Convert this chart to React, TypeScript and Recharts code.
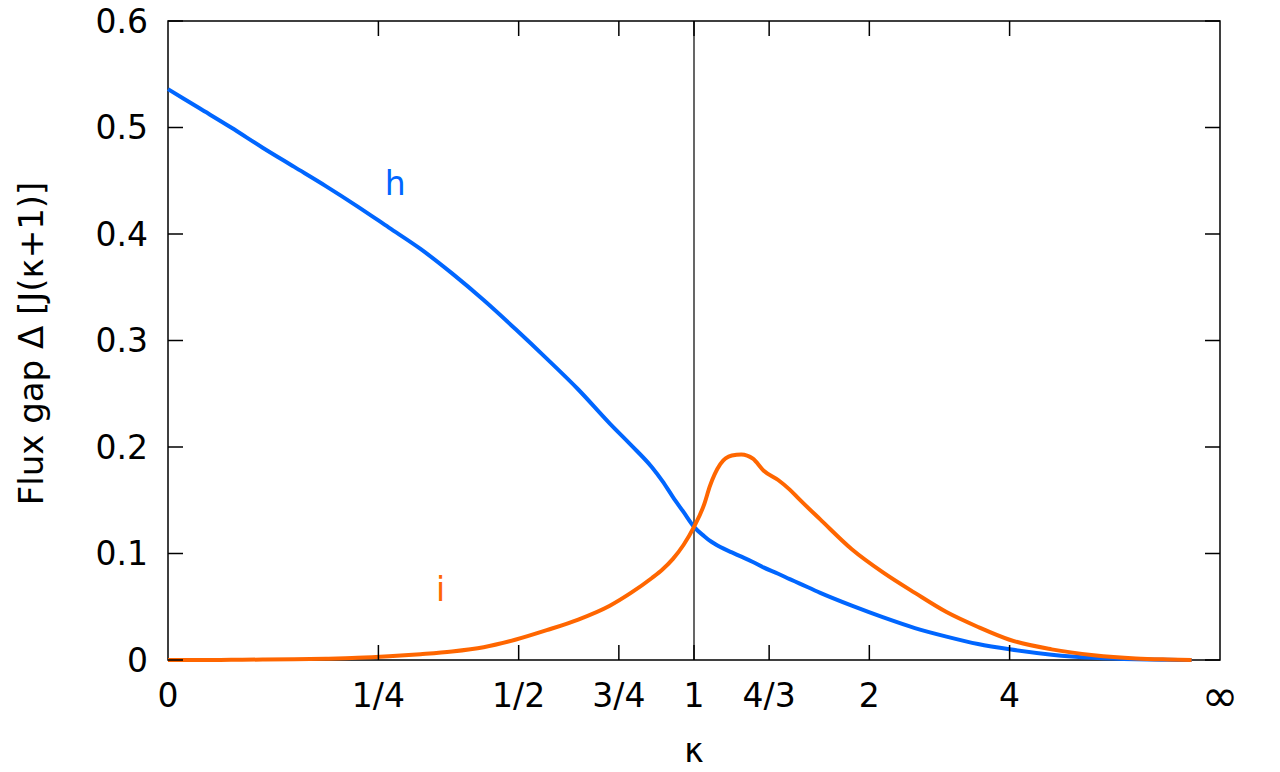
import React from 'react';
import { LineChart, Line, XAxis, YAxis, ReferenceLine, ReferenceArea, ReferenceDot } from 'recharts';

// x coordinate is t = κ/(1+κ), so κ = ∞ sits at t = 1
const T = [
  0, 0.03, 0.06, 0.09, 0.12, 0.15, 0.18, 0.21, 0.24, 0.27, 0.3, 0.33, 0.36, 0.39, 0.42, 0.44,
  0.46, 0.47, 0.48, 0.49, 0.5, 0.51, 0.515, 0.525, 0.536, 0.545, 0.556, 0.566, 0.58, 0.591,
  0.6, 0.62, 0.65, 0.68, 0.71, 0.74, 0.77, 0.8, 0.84, 0.88, 0.92, 0.95, 0.973,
];
const GAP_H = [
  0.536, 0.518, 0.5, 0.481, 0.463, 0.445, 0.426, 0.406, 0.386, 0.363, 0.338, 0.311, 0.283, 0.254, 0.222, 0.202,
  0.181, 0.168, 0.153, 0.139, 0.125, 0.116, 0.112, 0.106, 0.101, 0.097, 0.092, 0.087, 0.081, 0.076,
  0.072, 0.063, 0.051, 0.04, 0.03, 0.022, 0.015, 0.01, 0.005, 0.002, 0.0006, 0.0002, 0,
];
const GAP_I = [
  0, 0, 0.0002, 0.0004, 0.0007, 0.0012, 0.002, 0.0035, 0.0055, 0.008, 0.012, 0.019, 0.028, 0.038, 0.051, 0.063,
  0.077, 0.085, 0.095, 0.108, 0.125, 0.147, 0.163, 0.184, 0.192, 0.193, 0.189, 0.178, 0.169, 0.16,
  0.151, 0.132, 0.104, 0.082, 0.063, 0.045, 0.031, 0.019, 0.01, 0.0045, 0.0015, 0.0005, 0,
];

const KAPPA_TICKS = [0, 1 / 4, 1 / 2, 3 / 4, 1, 4 / 3, 2, 4, Infinity];
const KAPPA_LABELS = ['0', '1/4', '1/2', '3/4', '1', '4/3', '2', '4', '∞'];
const Y_TICKS = [0, 0.1, 0.2, 0.3, 0.4, 0.5, 0.6];
const Y_LABELS = ['0', '0.1', '0.2', '0.3', '0.4', '0.5', '0.6'];

const toT = (k: number) => (k === Infinity ? 1 : k / (1 + k));
const X_TICK_POS = KAPPA_TICKS.map(toT);

const data = T.map((t, i) => ({ t, h: GAP_H[i], i: GAP_I[i] }));

const W = 1280;
const H = 772;
const Y_AXIS_W = 168;
const X_AXIS_H = 112;
const MARGIN = { top: 21, right: 60, bottom: 0, left: 0 };
const PLOT_W = W - Y_AXIS_W - MARGIN.right;
const PLOT_H = H - MARGIN.top - X_AXIS_H;
const FONT = 'Verdana, DejaVu Sans, sans-serif';
const FS = 33;
const TICK = 15;
const BLUE = '#0066ff';
const ORANGE = '#ff6600';

const XTick = (props: any) => {
  const { x, y, index } = props;
  const last = index === KAPPA_TICKS.length - 1;
  const edge = index === 0 || last;
  return (
    <g>
      {!edge && <line x1={x} y1={y} x2={x} y2={y - TICK} stroke="#000" strokeWidth={1.5} />}
      {!edge && <line x1={x} y1={y - PLOT_H} x2={x} y2={y - PLOT_H + TICK} stroke="#000" strokeWidth={1.5} />}
      <text
        x={x}
        y={y + 35}
        textAnchor="middle"
        dominantBaseline="central"
        fontFamily={FONT}
        fontSize={last ? 44 : FS}
        fill="#000"
      >
        {KAPPA_LABELS[index]}
      </text>
    </g>
  );
};

const YTick = (props: any) => {
  const { x, y, index } = props;
  return (
    <g>
      <line x1={x} y1={y} x2={x + TICK} y2={y} stroke="#000" strokeWidth={1.5} />
      <line x1={x + PLOT_W - TICK} y1={y} x2={x + PLOT_W} y2={y} stroke="#000" strokeWidth={1.5} />
      <text x={x - 20} y={y} textAnchor="end" dominantBaseline="central" fontFamily={FONT} fontSize={FS} fill="#000">
        {Y_LABELS[index]}
      </text>
    </g>
  );
};

const yLabel = (props: any) => {
  const { x, y, height } = props.viewBox;
  const cx = x + 31;
  const cy = y + height / 2 + 3;
  return (
    <text x={cx} y={cy} transform={`rotate(-90 ${cx} ${cy})`} textAnchor="middle" dominantBaseline="central" fontFamily={FONT} fontSize={34} fill="#000">
      Flux gap Δ [J(κ+1)]
    </text>
  );
};

const xLabel = (props: any) => {
  const { x, y, width } = props.viewBox;
  return (
    <text x={x + width / 2} y={y + 90} textAnchor="middle" dominantBaseline="central" fontFamily={FONT} fontSize={FS} fill="#000">
      κ
    </text>
  );
};

export default function App() {
  return (
    <div style={{ position: 'absolute', left: 0, top: 0, background: '#fff' }}>
      <LineChart width={W} height={H} data={data} margin={MARGIN}>
        <XAxis
          type="number"
          dataKey="t"
          domain={[0, 1]}
          ticks={X_TICK_POS}
          interval={0}
          height={X_AXIS_H}
          tickSize={0}
          tickMargin={0}
          axisLine={false}
          tickLine={false}
          tick={<XTick />}
          label={{ content: xLabel }}
        />
        <YAxis
          type="number"
          domain={[0, 0.6]}
          ticks={Y_TICKS}
          interval={0}
          width={Y_AXIS_W}
          tickSize={0}
          tickMargin={0}
          axisLine={false}
          tickLine={false}
          tick={<YTick />}
          label={{ content: yLabel }}
        />
        <ReferenceArea x1={0} x2={1} y1={0} y2={0.6} fill="none" stroke="#000" strokeWidth={1.5} />
        <ReferenceLine x={0.5} stroke="#000" strokeWidth={1.2} />
        <Line type="monotone" dataKey="h" stroke={BLUE} strokeWidth={4} dot={false} isAnimationActive={false} />
        <Line type="monotone" dataKey="i" stroke={ORANGE} strokeWidth={4} dot={false} isAnimationActive={false} />
        <ReferenceDot
          x={0.216}
          y={0.448}
          r={0}
          fill="none"
          stroke="none"
          label={{ value: 'h', position: 'center', fill: BLUE, fontSize: FS, fontFamily: FONT }}
        />
        <ReferenceDot
          x={0.259}
          y={0.066}
          r={0}
          fill="none"
          stroke="none"
          label={{ value: 'i', position: 'center', fill: ORANGE, fontSize: FS, fontFamily: FONT }}
        />
      </LineChart>
    </div>
  );
}
